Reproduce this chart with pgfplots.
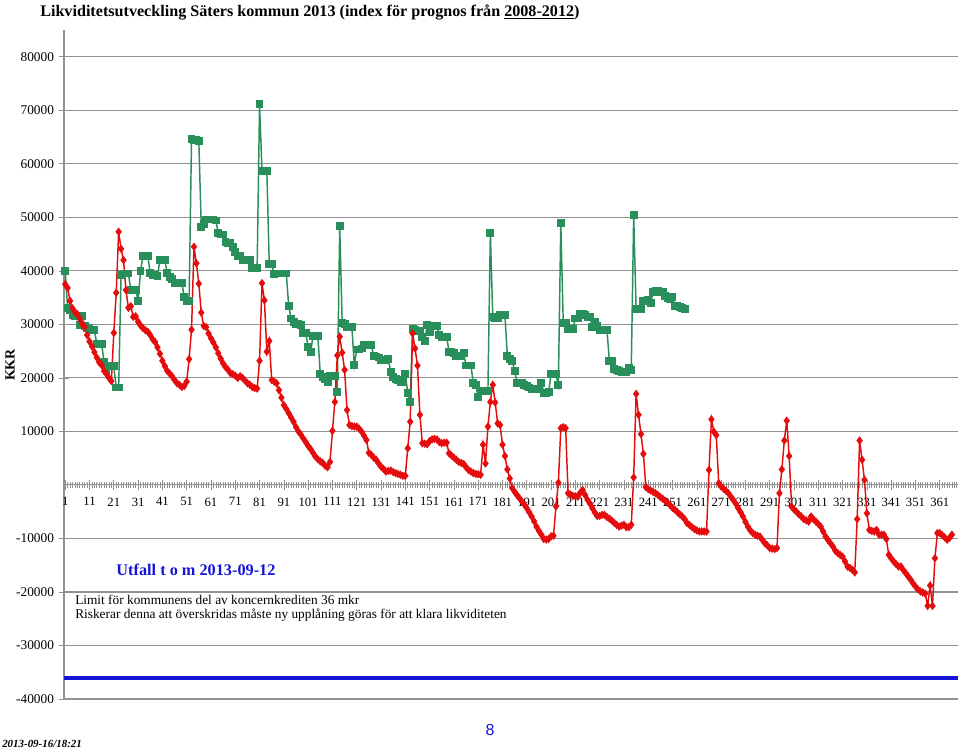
\documentclass[border=0pt]{standalone}
\usepackage{fontspec}
\setmainfont{Liberation Serif}
\newfontfamily\sansf{Liberation Sans}
\usepackage{pgfplots}
\usepackage{pgfplotstable}
\pgfplotsset{compat=1.18}
\definecolor{grn}{RGB}{40,142,90}
\definecolor{rd}{RGB}{228,12,12}
\definecolor{bl}{RGB}{20,20,215}
\definecolor{gridc}{RGB}{145,145,145}

\pgfplotstableread[row sep=\\]{v\\37500\\36800\\34400\\33000\\32300\\31900\\31000\\30000\\29500\\28000\\26800\\25900\\24800\\23800\\22900\\22400\\21300\\20700\\20000\\19400\\28400\\35900\\47300\\44100\\42000\\36400\\33100\\33400\\31400\\31500\\30500\\29800\\29300\\28900\\28600\\28000\\27200\\26700\\25700\\24500\\23200\\22200\\21300\\20800\\20300\\19600\\19000\\18700\\18300\\18500\\19300\\23500\\29000\\44500\\41400\\37600\\32200\\29700\\29500\\28300\\27400\\26600\\25700\\24600\\23600\\22700\\22000\\21500\\20900\\20700\\20400\\20000\\20300\\20000\\19500\\19000\\18700\\18300\\18100\\18000\\23200\\37700\\34500\\24900\\26900\\19600\\19300\\19000\\17700\\16300\\14900\\14200\\13400\\12600\\11800\\10800\\10000\\9400\\8700\\8000\\7300\\6700\\6000\\5300\\4800\\4400\\4100\\3600\\3300\\4300\\10100\\15500\\24200\\27700\\24700\\21500\\14000\\11200\\11000\\10900\\10900\\10500\\9950\\9200\\8400\\6000\\5600\\5100\\4700\\4000\\3400\\3000\\2500\\2600\\2700\\2400\\2200\\2050\\1900\\1700\\1700\\6850\\11800\\28300\\25500\\22300\\13100\\7800\\7700\\7600\\8200\\8500\\8600\\8500\\8000\\7800\\7900\\7900\\5900\\5500\\5100\\4700\\4300\\4100\\3900\\3300\\2800\\2500\\2200\\2050\\2000\\1900\\7500\\4000\\10900\\15500\\18700\\15400\\11500\\11200\\7500\\5400\\2900\\1200\\-600\\-1300\\-1900\\-2500\\-3100\\-3700\\-4350\\-5100\\-5900\\-6800\\-7800\\-8600\\-9300\\-10100\\-10200\\-10100\\-9600\\-9500\\-4000\\400\\10600\\10800\\10600\\-1550\\-1800\\-2050\\-2100\\-2200\\-1450\\-950\\-1900\\-2800\\-3500\\-4350\\-5150\\-5800\\-5800\\-5600\\-5600\\-6000\\-6300\\-6650\\-7100\\-7450\\-7800\\-7600\\-7450\\-7900\\-7900\\-7450\\1400\\17000\\13100\\9500\\5800\\-400\\-800\\-1050\\-1300\\-1550\\-1900\\-2300\\-2600\\-3000\\-3300\\-3800\\-4300\\-4650\\-5100\\-5500\\-5900\\-6400\\-7150\\-7500\\-7900\\-8250\\-8500\\-8700\\-8700\\-8700\\-8700\\2800\\12250\\9950\\9300\\300\\-300\\-700\\-1100\\-1550\\-2200\\-2800\\-3500\\-4350\\-5100\\-5900\\-6900\\-7800\\-8500\\-9000\\-9300\\-9500\\-9650\\-10300\\-10900\\-11300\\-11800\\-11900\\-12000\\-11800\\-1550\\2900\\8300\\12000\\5400\\-4050\\-4600\\-5000\\-5500\\-5900\\-6400\\-6600\\-6850\\-5900\\-6400\\-6850\\-7300\\-7800\\-8700\\-9650\\-10300\\-10900\\-11500\\-12300\\-12750\\-13100\\-13400\\-14300\\-15250\\-15500\\-15850\\-16350\\-6400\\8300\\4700\\950\\-5300\\-8400\\-8600\\-8700\\-8400\\-9300\\-9300\\-9300\\-10100\\-13050\\-13700\\-14300\\-14800\\-15250\\-15250\\-15900\\-16500\\-17100\\-17700\\-18400\\-19000\\-19500\\-19900\\-20100\\-20300\\-22600\\-18800\\-22600\\-13700\\-9000\\-9000\\-9400\\-9800\\-10250\\-9900\\-9300\\}\redtab

\pgfplotstableread[row sep=\\]{v\\40000\\33000\\32700\\31700\\31500\\31600\\29900\\31600\\29700\\29400\\29200\\29000\\29000\\26300\\26300\\26300\\23000\\21500\\22200\\22200\\22200\\18200\\18200\\39300\\39500\\39500\\39500\\36500\\36500\\36500\\34400\\39900\\42800\\42800\\42800\\39600\\39300\\39300\\39100\\42000\\42000\\42000\\39600\\38800\\38400\\37800\\37800\\37800\\37800\\35100\\34400\\34400\\64700\\64400\\64400\\64200\\48200\\48800\\49600\\49600\\49600\\49600\\49400\\47000\\46800\\46800\\45400\\45200\\45200\\44500\\43500\\42800\\42800\\42000\\42000\\42000\\42000\\40600\\40600\\40600\\71100\\58600\\58600\\58600\\41200\\41200\\39400\\39500\\39500\\39500\\39500\\39500\\33400\\31100\\30400\\30000\\30000\\29900\\28400\\28400\\25800\\24800\\27800\\27800\\27800\\20700\\20200\\19800\\19300\\20300\\20300\\20300\\17400\\48300\\30300\\30000\\29500\\29500\\29500\\22400\\25300\\25300\\25500\\26100\\26100\\26100\\26100\\24100\\24000\\23800\\23300\\23300\\23300\\23500\\21100\\20200\\19800\\19600\\19300\\19300\\20700\\17200\\15500\\29200\\28900\\28800\\28800\\27700\\26900\\29900\\28600\\29700\\29700\\29700\\28000\\27600\\27600\\27600\\24900\\24900\\24700\\24100\\24100\\24100\\24600\\22300\\22300\\22300\\19000\\18700\\16400\\17600\\17600\\17600\\17600\\47100\\31400\\31100\\31100\\31700\\31700\\31700\\24100\\23600\\23200\\21300\\19100\\19100\\19100\\18700\\18500\\18200\\18000\\18000\\18000\\18000\\19100\\17200\\17200\\17400\\20700\\20700\\20700\\18700\\48900\\30300\\30200\\29200\\29200\\29200\\31100\\31100\\32000\\32000\\31700\\31400\\31400\\29500\\30500\\29700\\28900\\28900\\28900\\28900\\23200\\23200\\21600\\21400\\21300\\21100\\21100\\21000\\21800\\21500\\50400\\32800\\32800\\32800\\34400\\34400\\34500\\34000\\36100\\36200\\36200\\36100\\36100\\35300\\35000\\34700\\35100\\33400\\33400\\33200\\33000\\32800\\}\grntab

\begin{document}
\begin{tikzpicture}
\begin{axis}[
  at={(0,0)}, anchor=south west,
  scale only axis,
  width=670.5pt, height=501.75pt,
  xmin=0.5, xmax=368.5,
  ymin=-40000, ymax=85000,
  axis x line=middle,
  axis y line=left,
  axis line style={gridc, line width=0.8pt, -},
  xtick={1,11,...,361},
  minor xtick={1,...,368},
  ytick={-40000,-30000,-20000,-10000,10000,20000,30000,40000,50000,60000,70000,80000},
  tick align=center,
  major tick length=8pt,
  minor tick length=4.5pt,
  tick style={gridc, line width=0.5pt},
  ymajorgrids,
  grid style={gridc, line width=0.9pt},
  /pgf/number format/assume math mode=true,
  /pgf/number format/set thousands separator={},
  scaled y ticks=false,
  x tick label style={font=\fontsize{9.5}{10}\selectfont, yshift=-2pt},
  y tick label style={font=\fontsize{10}{12}\selectfont},
  clip=false,
]
\addplot[grn, line width=1.1pt, mark=square*, mark size=2.4pt, mark options={solid}]
  table[x expr=\coordindex+1, y=v] {\grntab};
\addplot[rd, line width=1.1pt, mark=diamond*, mark size=2.3pt, mark options={solid}]
  table[x expr=\coordindex+1, y=v] {\redtab};
\addplot[bl, line width=3pt] coordinates {(0.5,-36000) (368.5,-36000)};
\end{axis}
\node[anchor=west, font=\fontsize{12.1}{14}\selectfont\bfseries, inner sep=0pt] at (-18pt,515.25pt)
  {Likviditetsutveckling Säters kommun 2013 (index för prognos från \underline{2008-2012})};
\node[rotate=90, font=\fontsize{10.5}{12}\selectfont\bfseries, inner sep=0pt] at (-40.5pt,250.5pt) {KKR};
\node[bl, font=\fontsize{12.2}{14}\selectfont\bfseries, inner sep=0pt] at (99pt,96.75pt) {Utfall t o m 2013-09-12};
\node[anchor=west, font=\fontsize{10}{11}\selectfont, inner sep=0pt] at (8.25pt,74.25pt) {Limit för kommunens del av koncernkrediten 36 mkr};
\node[anchor=west, font=\fontsize{10}{11}\selectfont, inner sep=0pt] at (8.25pt,63pt) {Riskerar denna att överskridas måste ny upplåning göras för att klara likviditeten};
\node[bl, font=\sansf\fontsize{12}{14}\selectfont, inner sep=0pt] at (319.5pt,-23.25pt) {8};
\node[anchor=west, font=\fontsize{8.2}{9}\selectfont\bfseries\itshape, inner sep=0pt] at (-46.5pt,-33.75pt) {2013-09-16/18:21};
\path[use as bounding box] (-48pt,-37.5pt) rectangle (672pt,524.25pt);
\end{tikzpicture}
\end{document}
